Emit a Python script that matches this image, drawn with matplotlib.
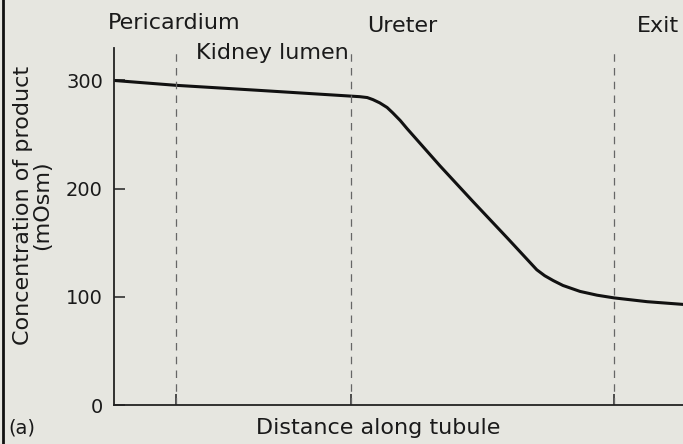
import matplotlib.pyplot as plt
from matplotlib.lines import Line2D

# distance along tubule (arbitrary units, 0-10) and concentration (mOsm)
distance = [0, 1.09, 2.5, 4.17, 4.32, 4.45, 4.55, 4.67, 4.80, 4.90, 5.03,
            5.15, 5.73, 6.31, 6.91, 7.43, 7.57, 7.72, 7.89, 8.19, 8.49,
            8.79, 9.37, 10]
concentration = [300, 295.5, 291, 285.5, 285, 284.2, 282.3, 279.3, 275, 270,
                 263, 255.5, 221, 188, 154.5, 125, 119.5, 115, 110.5, 105,
                 101.5, 99, 95.5, 93]

# region boundaries and labels
boundaries = [1.09, 4.17, 8.79]
region_names = ["Pericardium", "Kidney lumen", "Ureter", "Exit"]
region_x = [-0.1, 1.44, 4.45, 9.19]
region_y = [348, 320, 345, 345]
y_ticks = [0, 100, 200, 300]

BG = "#e6e6e0"

fig = plt.figure(figsize=(6.83, 4.44), dpi=100, facecolor=BG)
ax = fig.add_axes([114 / 683, 1 - 405 / 444, 1 - 114 / 683, (405 - 48) / 444])
ax.set_facecolor(BG)

ax.plot(distance, concentration, color="#111111", linewidth=2.2,
        solid_capstyle="round", solid_joinstyle="round")

for b in boundaries:
    ax.axvline(b, color="#666666", linestyle=(0, (6, 5)), linewidth=0.9)

for name, x, y in zip(region_names, region_x, region_y):
    ax.text(x, y, name, fontsize=16, color="#1a1a1a", va="baseline",
            ha="left", clip_on=False)

ax.set_xlim(0, 10)
ax.set_ylim(0, 330)
ax.spines["top"].set_visible(False)
ax.spines["right"].set_visible(False)
for s in ["left", "bottom"]:
    ax.spines[s].set_linewidth(1.3)
    ax.spines[s].set_color("#222222")

ax.set_xticks(boundaries)
ax.set_xticklabels([])
ax.set_yticks(y_ticks)
ax.tick_params(axis="both", direction="in", length=8, width=1.1,
               color="#222222")
ax.tick_params(axis="y", labelsize=14, pad=8, labelcolor="#1a1a1a")

fig.text(33 / 683, 1 - 205 / 444, "Concentration of product\n(mOsm)",
         rotation=90, ha="center", va="center", fontsize=16,
         color="#1a1a1a", linespacing=0.95)
fig.text(378 / 683, 1 - 428 / 444, "Distance along tubule", ha="center",
         va="center", fontsize=16, color="#1a1a1a")
fig.text(8 / 683, 1 - 428 / 444, "(a)", ha="left", va="center",
         fontsize=14, color="#1a1a1a")

# left border of the scanned panel
fig.add_artist(Line2D([3 / 683, 3 / 683], [0, 1], transform=fig.transFigure,
                      color="#111111", linewidth=2))

fig.savefig("out.png", dpi=100, facecolor=BG)
